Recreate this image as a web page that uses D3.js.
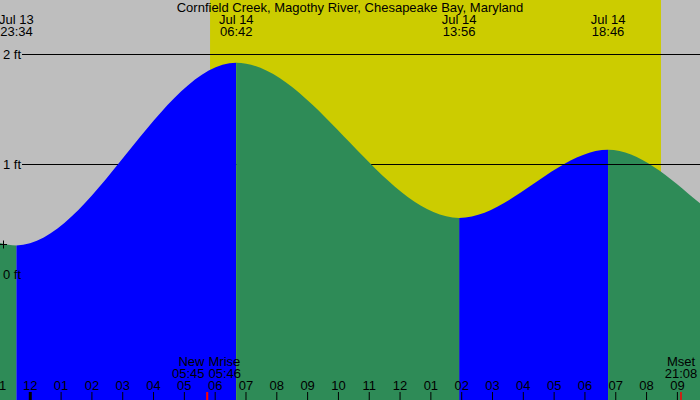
<!DOCTYPE html>
<html>
<head>
<meta charset="utf-8">
<script src="https://cdn.jsdelivr.net/npm/d3@7/dist/d3.min.js"></script>
<style>
html,body{margin:0;padding:0;background:#fff;}
svg{display:block;}
text{font-family:"Liberation Sans",Arial,sans-serif;font-size:13px;fill:#000;}
</style>
</head>
<body>
<svg id="chart" width="700" height="400"></svg>
<script>
// ---- data ----
const title = "Cornfield Creek, Magothy River, Chesapeake Bay, Maryland";
const viewStart = "2025-07-13T23:02";
const viewEnd = "2025-07-14T21:45";
// tide extremes (times and heights in ft); first/last are just outside the view
const extremeTimes = ["2025-07-13T11:10","2025-07-13T17:55","2025-07-13T23:34","2025-07-14T06:42","2025-07-14T13:56","2025-07-14T18:46","2025-07-15T00:20","2025-07-15T07:30"];
const extremeHeights = [0.50, 1.10, 0.26, 1.92, 0.51, 1.13, 0.25, 1.90];
// labelled extremes at the top
const labelDates = ["Jul 13","Jul 14","Jul 14","Jul 14"];
const labelTimes = ["23:34","06:42","13:56","18:46"];
const labelIso = ["2025-07-13T23:34","2025-07-14T06:42","2025-07-14T13:56","2025-07-14T18:46"];
// daylight
const sunrise = "2025-07-14T05:51";
const sunset = "2025-07-14T20:29";
// moon events
const eventNames = ["New","Mrise","Mset"];
const eventTimes = ["05:45","05:46","21:08"];
const eventIso = ["2025-07-14T05:45","2025-07-14T05:46","2025-07-14T21:08"];
// y gridlines / labels
const gridFeet = [2, 1];
const axisFeet = [2, 1, 0];
const axisLabels = ["2 ft","1 ft","0 ft"];
const markerLevel = 0.27;

// ---- setup ----
const W = 700, H = 400;
const parse = d3.timeParse("%Y-%m-%dT%H:%M");
const svg = d3.select("#chart");
const x = d3.scaleTime().domain([parse(viewStart), parse(viewEnd)]).range([0, W]);
const y = d3.scaleLinear().domain([0, 2]).range([274, 54]);

const tide = extremeTimes.map((t, i) => ({t: parse(t), h: extremeHeights[i]}));

// background
svg.append("rect").attr("width", W).attr("height", H).attr("fill", "#bebebe");
svg.append("rect")
  .attr("x", x(parse(sunrise))).attr("y", 0)
  .attr("width", x(parse(sunset)) - x(parse(sunrise))).attr("height", H)
  .attr("fill", "#cccc00");

const area = d3.area()
  .x(d => x(d.t)).y0(H + 10).y1(d => y(d.h))
  .curve(d3.curveMonotoneX);

const defs = svg.append("defs");
const segments = [];
for (let i = 0; i < tide.length - 1; i++) {
  const a = tide[i], b = tide[i + 1];
  defs.append("clipPath").attr("id", "seg" + i)
    .append("rect")
    .attr("x", x(a.t)).attr("y", 0)
    .attr("width", x(b.t) - x(a.t)).attr("height", H + 20);
  segments.push({i, rising: b.h > a.h, t: a.t});
}
const splitTime = parse("2025-07-14T13:56");
const lowerLayer = svg.append("g");
const gridLayer = svg.append("g");
const upperLayer = svg.append("g");

segments.forEach(s => {
  const layer = s.t >= splitTime ? lowerLayer : upperLayer;
  layer.append("path")
    .datum(tide)
    .attr("d", area)
    .attr("clip-path", `url(#seg${s.i})`)
    .attr("fill", s.rising ? "#0000ff" : "#2e8b57");
});

// gridlines
gridLayer.selectAll("line").data(gridFeet).join("line")
  .attr("x1", 22).attr("x2", W)
  .attr("y1", d => Math.round(y(d)) + 0.5).attr("y2", d => Math.round(y(d)) + 0.5)
  .attr("stroke", "#000").attr("stroke-width", 1);

// y labels
svg.append("g").selectAll("text").data(axisFeet).join("text")
  .attr("x", 3).attr("y", d => y(d)).attr("dy", "0.35em")
  .text((d, i) => axisLabels[i]);

// + marker
const my = Math.round(y(markerLevel)) + 0.5;
svg.append("path")
  .attr("d", `M0,${my}H7M3.5,${my - 4}V${my + 4}`)
  .attr("stroke", "#000").attr("stroke-width", 1).attr("fill", "none");

// title
svg.append("text").attr("x", W / 2).attr("y", 12).attr("text-anchor", "middle").text(title);

// top labels
const topLabels = svg.append("g").selectAll("g").data(labelIso).join("g")
  .attr("transform", d => `translate(${x(parse(d))},0)`);
topLabels.append("text").attr("y", 24).attr("text-anchor", "middle").text((d, i) => labelDates[i]);
topLabels.append("text").attr("y", 36).attr("text-anchor", "middle").text((d, i) => labelTimes[i]);

// hour axis
const hourTicks = d3.timeHour.range(new Date(d3.timeHour.ceil(x.domain()[0]).getTime() - 3600000), x.domain()[1]);
const axis = d3.axisTop(x).tickValues(hourTicks).tickFormat(d3.timeFormat("%I"))
  .tickSize(8).tickPadding(2.5);
const ag = svg.append("g").attr("transform", `translate(0,${H})`).call(axis);
ag.select(".domain").remove();
ag.selectAll("text").attr("font-family", null).attr("font-size", null).style("fill", "#000");
ag.selectAll("line").attr("stroke", "#000");
ag.selectAll(".tick").filter(d => d.getHours() === 0).select("line").attr("stroke-width", 3);

// moon event ticks & labels
const evX = eventIso.map(d => x(parse(d)));
svg.append("g").selectAll("line").data(evX).join("line")
  .attr("x1", d => d).attr("x2", d => d).attr("y1", 392).attr("y2", H)
  .attr("stroke", "#ff0000").attr("stroke-width", 1.5);
const anchorFor = (d, i) => {
  if (i < evX.length - 1 && evX[i + 1] - d < 40) return "end";
  if (i > 0 && d - evX[i - 1] < 40) return "start";
  return "middle";
};
const ev = svg.append("g").selectAll("g").data(evX).join("g")
  .attr("transform", (d, i) => {
    const a = anchorFor(d, i);
    const dx = a === "end" ? -2.5 : a === "start" ? 1 : 0;
    return `translate(${d + dx},0)`;
  });
ev.append("text").attr("y", 366).attr("text-anchor", anchorFor).text((d, i) => eventNames[i]);
ev.append("text").attr("y", 378).attr("text-anchor", anchorFor).text((d, i) => eventTimes[i]);
</script>
</body>
</html>
